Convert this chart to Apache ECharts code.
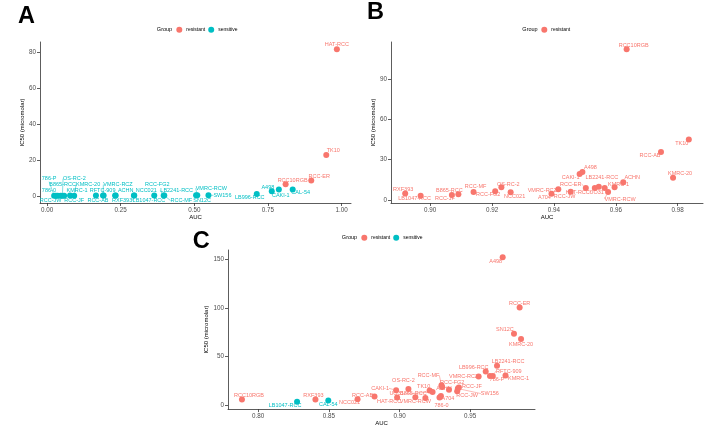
<!DOCTYPE html>
<html>
<head>
<meta charset="utf-8">
<script src="https://cdn.jsdelivr.net/npm/echarts@6/dist/echarts.min.js"></script>
<style>
html,body{margin:0;padding:0;background:#fff;}
#chart{width:705px;height:427px;}
</style>
</head>
<body>
<div id="chart"></div>
<script>
// ---------- Panel A data ----------
const aNames = ['HAT-RCC','TK10','RCC-ER','RCC10RGB',
  '786-P','786-0','RCC-JW','B865-RCC','OS-RC-2','RCC-JF','KMRC-1','KMRC-20','RCC-AB','VMRC-RCZ','RFTC-909',
  'RXF393','ACHN','LB1047-RCC','NCC021','RCC-FG2','LB2241-RCC','RCC-MF','SN12C','VMRC-RCW','SW156',
  'LB996-RCC','CAKI-1','A498','CAL-54'];
const aAUC = [0.984,0.948,0.897,0.810,
  0.024,0.030,0.036,0.046,0.052,0.058,0.078,0.092,0.166,0.190,0.192,
  0.231,0.233,0.295,0.296,0.364,0.396,0.398,0.506,0.510,0.548,
  0.712,0.763,0.787,0.834];
const aIC50 = [81.6,22.8,8.6,6.4,
  0.1,0.1,0.1,0.1,0.1,0.1,0.2,0.1,0.2,0.2,0.2,
  0.2,0.2,0.2,0.2,0.2,0.2,0.2,0.3,0.3,0.3,
  1.1,2.6,3.6,3.6];
const aGroup = ['resistant','resistant','resistant','resistant',
  'sensitive','sensitive','sensitive','sensitive','sensitive','sensitive','sensitive','sensitive','sensitive','sensitive','sensitive',
  'sensitive','sensitive','sensitive','sensitive','sensitive','sensitive','sensitive','sensitive','sensitive','sensitive',
  'sensitive','sensitive','sensitive','sensitive'];
const aXTicks = [0, 0.25, 0.5, 0.75, 1];
const aYTicks = [0, 20, 40, 60, 80];

// ---------- Panel B data ----------
const bNames = ['RCC10RGB','TK10','RCC-AB','KMRC-20','ACHN','KMRC-1','VMRC-RCW','LB2241-RCC','UO31','HAT-RCC',
  'RCC-ER','A498','CAKI-1','RCC-JW','VMRC-RCZ','A704','NCC021','OS-RC-2','RCC-FG2','RCC-MF',
  'B865-RCC','RCC-JF','LB1047-RCC','RXF393'];
const bAUC = [0.9635,0.9836,0.9746,0.9785,0.9624,0.9596,0.9575,0.9545,0.9564,0.9532,
  0.9503,0.9492,0.9483,0.9454,0.9414,0.9392,0.9260,0.9230,0.9210,0.9140,
  0.9091,0.9070,0.8969,0.8919];
const bIC50 = [111.9,44.9,35.7,16.6,13.1,9.4,5.9,9.9,8.9,8.9,
  8.9,20.8,19.3,6.2,7.9,4.7,5.7,9.4,6.4,6.0,
  4.2,3.7,3.2,4.9];
const bGroup = bNames.map(() => 'resistant');
const bXTicks = [0.90, 0.92, 0.94, 0.96, 0.98];
const bYTicks = [0, 30, 60, 90];

// ---------- Panel C data ----------
const cNames = ['RCC10RGB','LB1047-RCC','RXF393','CAL-54','NCC021','RCC-AB','CAKI-1','HAT-RCC','OS-RC-2','B865-RCC',
  'VMRC-RCW','TK10','UO31','786-0','A704','RCC-MF','RCC-FG2','ACHN','RCC-JW','SW156',
  'RCC-JF','VMRC-RCZ','LB996-RCC','786-P','RFTC-909','LB2241-RCC','KMRC-1','SN12C','KMRC-20','RCC-ER','A498'];
const cAUC = [0.7885,0.8275,0.8405,0.8496,0.8703,0.8823,0.8976,0.8983,0.9063,0.9112,
  0.9183,0.9213,0.9234,0.9283,0.9293,0.9297,0.9302,0.9350,0.9408,0.9413,
  0.9420,0.9560,0.9610,0.9640,0.9660,0.9690,0.9750,0.9810,0.9860,0.9850,0.9730];
const cIC50 = [5.8,3.4,5.8,4.8,6.1,8.9,15.3,7.9,16.7,8.2,
  7.5,15.0,13.6,7.8,9.5,20.4,18.7,16.0,14.3,17.1,
  18.1,29.6,34.7,30.0,30.0,40.5,30.6,73.5,68.1,100.7,152.4];
const cGroup = cNames.map(n => (n === 'LB1047-RCC' || n === 'CAL-54') ? 'sensitive' : 'resistant');
const cXTicks = [0.80, 0.85, 0.90, 0.95];
const cYTicks = [0, 50, 100, 150];

// ---------- label nudges (pixels, styling only) ----------
const aNudge = {'HAT-RCC':[0,-5],'TK10':[7,-4],'RCC-ER':[8,-4],'RCC10RGB':[7,-4],'CAL-54':[8,3],'A498':[-11,-2],
  'CAKI-1':[9,4],'LB996-RCC':[-7,4],'SW156':[14,0],'VMRC-RCW':[14,-7],'SN12C':[6,5],'LB2241-RCC':[13,-5],
  'RCC-MF':[17,5],'RCC-FG2':[3,-11],'NCC021':[12,-5],'LB1047-RCC':[15,5],'ACHN':[10,-5],'RXF393':[7,5],
  'RFTC-909':[-1,-5],'VMRC-RCZ':[15,-11],'RCC-AB':[2,5],'KMRC-20':[14,-11],'KMRC-1':[7,-5],'RCC-JF':[10,5],
  'OS-RC-2':[12,-17],'B865-RCC':[2,-11],'RCC-JW':[-7,5],'786-0':[-7,-5],'786-P':[-5,-17]};
const bNudge = {'RCC10RGB':[7,-4],'TK10':[-7,4],'RCC-AB':[-11,4],'KMRC-20':[7,-4],'ACHN':[9,-5],'KMRC-1':[4,-3],
  'VMRC-RCW':[12,7],'LB2241-RCC':[3,-9],'UO31':[-8,4],'HAT-RCC':[-17,4],'RCC-ER':[-15,-4],'A498':[8,-4],
  'CAKI-1':[-9,3],'RCC-JW':[-6,5],'VMRC-RCZ':[-16,1],'A704':[-7,4],'NCC021':[4,4],'OS-RC-2':[7,-3],
  'RCC-FG2':[-7,3],'RCC-MF':[2,-5],'B865-RCC':[-9,-4],'RCC-JF':[-7,3],'LB1047-RCC':[-6,3],'RXF393':[-2,-4]};
const cNudge = {'RCC10RGB':[7,-4],'LB1047-RCC':[-12,4],'RXF393':[-2,-4],'CAL-54':[0,4],'NCC021':[-8,3],
  'RCC-AB':[-12,-1],'CAKI-1':[-16,-2],'HAT-RCC':[-8,4],'OS-RC-2':[-5,-8],'B865-RCC':[-2,-4],'VMRC-RCW':[-10,4],
  'TK10':[-6,-4],'UO31':[-36,2],'786-0':[2,8],'A704':[7,3],'RCC-MF':[-13,-10],'RCC-FG2':[10,-5],'ACHN':[-5,-1],
  'RCC-JW':[10,4],'SW156':[32,5],'RCC-JF':[13,-1],'VMRC-RCZ':[-15,0],'LB996-RCC':[-12,-4],'786-P':[7,3],
  'RFTC-909':[16,-5],'LB2241-RCC':[11,-4],'KMRC-1':[13,3],'SN12C':[-9,-4],'KMRC-20':[0,5],'RCC-ER':[0,-4],'A498':[-7,4]};

const COLORS = {resistant:'#F8766D', sensitive:'#00BFC4'};
const FONT = '"Liberation Sans", Arial, Helvetica, sans-serif';

function range(vals){
  const mn = Math.min.apply(null, vals), mx = Math.max.apply(null, vals);
  const e = (mx - mn) * 0.05;
  return [mn - e, mx + e];
}

const series = [];
const nudges = [];
function addPanel(gi, names, xs, ys, groups, nudge){
  ['resistant','sensitive'].forEach(g => {
    const data = [], off = [];
    names.forEach((n, i) => {
      if (groups[i] !== g) return;
      const o = nudge[n] || [0,-5];
      const far = Math.hypot(o[0], o[1]) > 13;
      data.push({value:[xs[i], ys[i]], name:n, labelLine:{show:far}});
      off.push(o);
    });
    if (!data.length) return;
    series.push({
      type:'scatter', name:g, xAxisIndex:gi, yAxisIndex:gi,
      symbol:'circle', symbolSize:6,
      itemStyle:{color:COLORS[g], opacity:1},
      label:{show:true, position:'inside', formatter:p => p.name, color:COLORS[g],
             fontSize:5.5, fontFamily:FONT},
      labelLine:{show:false, lineStyle:{color:COLORS[g], width:0.5}},
      labelLayout: function(p){ const o = nudges[p.seriesIndex][p.dataIndex]; return {dx:o[0], dy:o[1]}; },
      emphasis:{disabled:true},
      data:data, z:3
    });
    nudges.push(off);
  });
}
addPanel(0, aNames, aAUC, aIC50, aGroup, aNudge);
addPanel(1, bNames, bAUC, bIC50, bGroup, bNudge);
addPanel(2, cNames, cAUC, cIC50, cGroup, cNudge);

const axLine = {show:true, onZero:false, lineStyle:{color:'#333', width:0.8}};
function xAx(gi, r, ticks){
  return {type:'value', gridIndex:gi, min:r[0], max:r[1], name:'AUC', nameLocation:'middle', nameGap:7,
    nameTextStyle:{fontSize:6, color:'#000', fontFamily:FONT},
    axisLine:axLine, splitLine:{show:false},
    axisTick:{show:true, length:3, customValues:ticks, lineStyle:{color:'#333', width:0.8}},
    axisLabel:{customValues:ticks, fontSize:6.3, color:'#4d4d4d', margin:4, fontFamily:FONT,
      formatter:v => Number(v).toFixed(2)}};
}
function yAx(gi, r, ticks, gap){
  return {type:'value', gridIndex:gi, min:r[0], max:r[1], name:'IC50 (micromolar)', nameLocation:'middle', nameGap:gap,
    nameTextStyle:{fontSize:6, color:'#000', fontFamily:FONT},
    axisLine:axLine, splitLine:{show:false},
    axisTick:{show:true, length:3, customValues:ticks, lineStyle:{color:'#333', width:0.8}},
    axisLabel:{customValues:ticks, fontSize:6.3, color:'#4d4d4d', margin:4, fontFamily:FONT,
      formatter:v => String(Math.round(v))}};
}

function txt(x, y, s, size, weight){
  return {type:'text', x:x, y:y, z:10,
    style:{text:s, fontSize:size, fontWeight:weight||'normal', fontFamily:FONT, fill:'#000',
      align:'center', verticalAlign:'middle', textAlign:'center', textVerticalAlign:'middle'}};
}
function legend(left, top, items){
  return {left:left, top:top, orient:'horizontal', data:items.map(n => ({name:n, icon:'circle'})),
    itemWidth:6, itemHeight:6, itemGap:3, padding:0, selectedMode:false,
    textStyle:{fontSize:5, color:'#000', fontFamily:FONT, padding:[0,0,0,-1]}};
}

const option = {
  animation:false,
  backgroundColor:'#fff',
  grid:[
    {left:40, top:42, right:354, bottom:224, containLabel:false},
    {left:391, top:42, right:2, bottom:224, containLabel:false},
    {left:228, top:250, right:170, bottom:17.5, containLabel:false}
  ],
  xAxis:[xAx(0, range(aAUC), aXTicks), xAx(1, range(bAUC), bXTicks), xAx(2, range(cAUC), cXTicks)],
  yAxis:[yAx(0, range(aIC50), aYTicks, 9), yAx(1, range(bIC50), bYTicks, 13), yAx(2, range(cIC50), cYTicks, 14)],
  legend:[legend(176.3, 26.7, ['resistant','sensitive']), legend(541.3, 26.7, ['resistant']), legend(361.3, 234.7, ['resistant','sensitive'])],
  graphic:[
    txt(26.5, 17, 'A', 23.5, 'bold'),
    txt(375.5, 12.5, 'B', 23.5, 'bold'),
    txt(201.3, 242, 'C', 23.5, 'bold'),
    txt(164.5, 29.7, 'Group', 5.5),
    txt(530, 29.7, 'Group', 5.5),
    txt(349.5, 237.7, 'Group', 5.5)
  ],
  series:series
};
const chart = echarts.init(document.getElementById('chart'), null, {renderer:'canvas'});
chart.setOption(option);
</script>
</body>
</html>
